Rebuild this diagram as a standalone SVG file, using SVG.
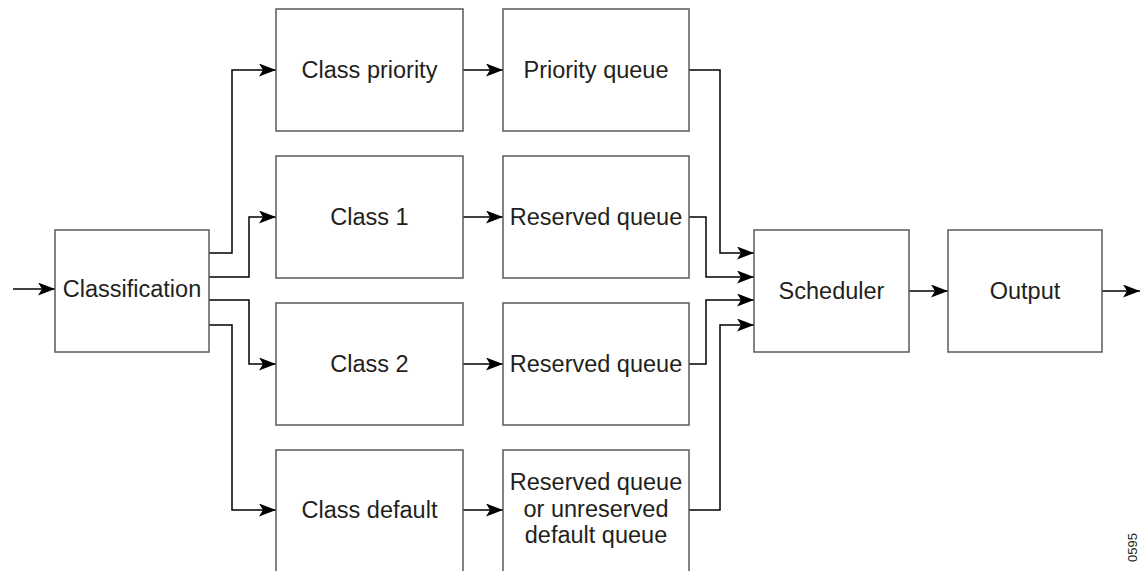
<svg xmlns="http://www.w3.org/2000/svg" width="1145" height="571" viewBox="0 0 1145 571">
<style>
.box{fill:#fff;stroke:#5a5a5a;stroke-width:1.5}
.t{font-family:"Liberation Sans",Arial,sans-serif;font-size:23.5px;fill:#231f20;text-anchor:middle}
.c{fill:none;stroke:#000;stroke-width:1.5}
.a{marker-end:url(#ah)}
</style>
<defs>
<marker id="ah" markerUnits="userSpaceOnUse" markerWidth="17" markerHeight="13" refX="17" refY="6.5" orient="auto">
<path d="M0,0 L17,6.5 L0,13 L4,6.5 z" fill="#000"/>
</marker>
</defs>
<rect width="1145" height="571" fill="#fff"/>
<g id="connectors">
<path class="c a" d="M13,289 H55"/>
<path class="c a" d="M209,253 H232 V70 H276"/>
<path class="c a" d="M209,277 H249 V217 H276"/>
<path class="c a" d="M209,300 H249 V364 H276"/>
<path class="c a" d="M209,325 H232 V510 H276"/>
<path class="c a" d="M463,70 H503"/>
<path class="c a" d="M463,217 H503"/>
<path class="c a" d="M463,364 H503"/>
<path class="c a" d="M463,510 H503"/>
<path class="c a" d="M689,70 H720 V253 H754"/>
<path class="c a" d="M689,217 H706 V277 H754"/>
<path class="c a" d="M689,364 H706 V300 H754"/>
<path class="c a" d="M689,510 H720 V325 H754"/>
<path class="c a" d="M909,291 H948"/>
<path class="c a" d="M1102,291 H1140"/>
</g>
<g id="classification"><rect class="box" x="55" y="230" width="154" height="122"/><text class="t" x="132" y="297">Classification</text></g>
<g id="class-priority"><rect class="box" x="276" y="9" width="187" height="122"/><text class="t" x="369.5" y="78">Class priority</text></g>
<g id="class-1"><rect class="box" x="276" y="156" width="187" height="122"/><text class="t" x="369.5" y="225">Class 1</text></g>
<g id="class-2"><rect class="box" x="276" y="303" width="187" height="122"/><text class="t" x="369.5" y="372">Class 2</text></g>
<g id="class-default"><rect class="box" x="276" y="450" width="187" height="124"/><text class="t" x="369.5" y="518">Class default</text></g>
<g id="priority-queue"><rect class="box" x="503" y="9" width="186" height="122"/><text class="t" x="596" y="78">Priority queue</text></g>
<g id="reserved-queue-1"><rect class="box" x="503" y="156" width="186" height="122"/><text class="t" x="596" y="225">Reserved queue</text></g>
<g id="reserved-queue-2"><rect class="box" x="503" y="303" width="186" height="122"/><text class="t" x="596" y="372">Reserved queue</text></g>
<g id="default-queue"><rect class="box" x="503" y="450" width="186" height="124"/><text class="t" x="596" y="490">Reserved queue</text><text class="t" x="596" y="517">or unreserved</text><text class="t" x="596" y="543">default queue</text></g>
<g id="scheduler"><rect class="box" x="754" y="230" width="155" height="122"/><text class="t" x="831.5" y="299">Scheduler</text></g>
<g id="output"><rect class="box" x="948" y="230" width="154" height="122"/><text class="t" x="1025" y="299">Output</text></g>
<text x="1137" y="562" transform="rotate(-90 1137 562)" font-family="Liberation Sans,Arial,sans-serif" font-size="13" fill="#231f20">0595</text>
</svg>
